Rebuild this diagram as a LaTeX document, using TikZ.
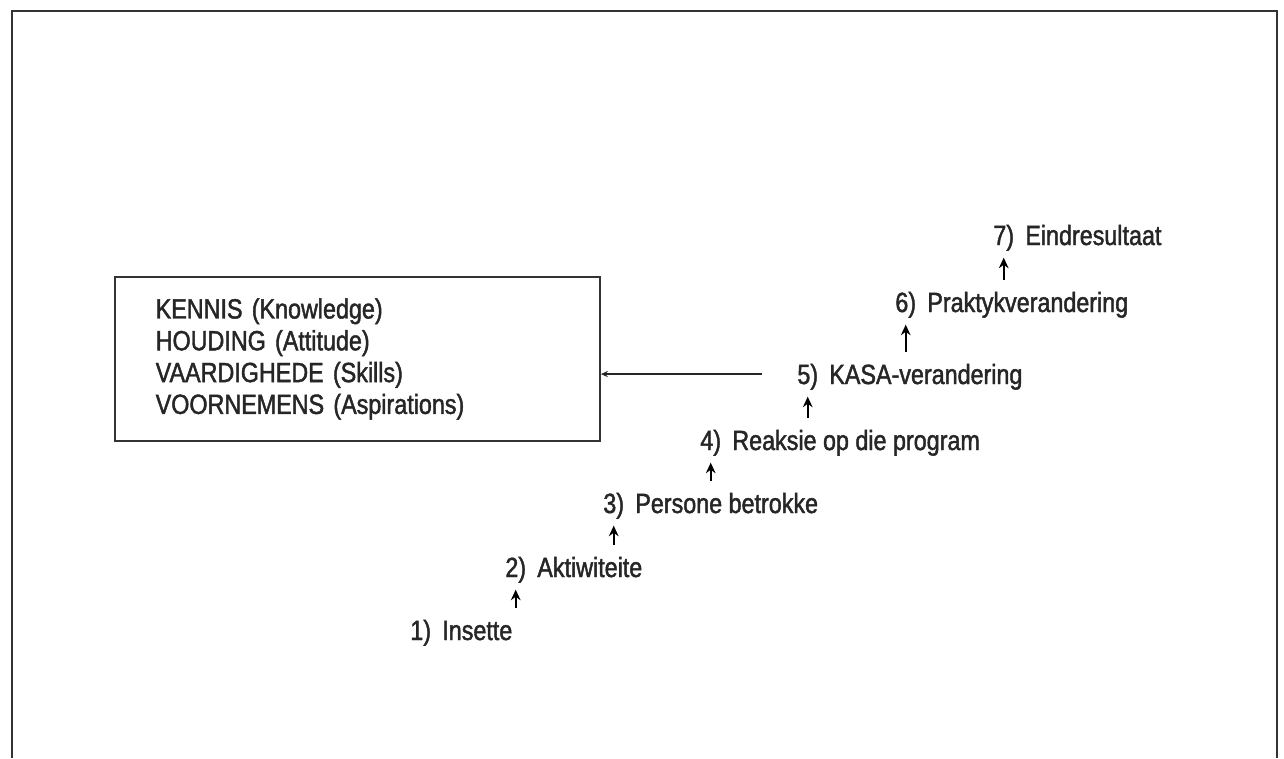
\documentclass[tikz,border=0pt]{standalone}
\usepackage{fontspec}
\setmainfont[FakeStretch=0.84,FakeBold=1.6]{Liberation Sans}
\usepackage{tikz}
\usetikzlibrary{positioning,arrows.meta}

\begin{document}
\begin{tikzpicture}[x=0.02cm,y=-0.02cm,
        every node/.style={inner sep=0pt,text=black!85,font=\fontsize{15.8}{18.1}\selectfont},
        nr/.style={anchor=base west,text height=11.3pt,text depth=0pt},
        woord/.style={text height=11.3pt,text depth=0pt},
        kader/.style={draw=black!80,line width=1.1pt,anchor=west,align=left,
            text width=229.6pt,inner xsep=23.2pt,minimum height=93pt},
        opwaarts/.style={-{Stealth[length=6pt,width=5.5pt]},line width=1.2pt,
            shorten <=7pt,shorten >=7pt},
        terug/.style={-{Stealth[length=4pt,width=3.5pt]},line width=0.9pt,draw=black!85,
            shorten <=20pt}]
        \useasboundingbox (0,0) rectangle (1284,758);
        \draw[line width=1.4pt,black!80] (12,758) -- (12,11) -- (1277,11) -- (1277,758);
        \node[kader] (kasa) at (114,359) {KENNIS (Knowledge)\\ HOUDING (Attitude)\\
            VAARDIGHEDE (Skills)\\ VOORNEMENS (Aspirations)};
        \node[nr] (n1) at (410,640) {1)};
        \node[woord,right=6pt of n1] (w1) {Insette};
        \node[nr] (n2) at (505,577) {2)};
        \node[woord,right=6pt of n2] (w2) {Aktiwiteite};
        \node[nr] (n3) at (603,513) {3)};
        \node[woord,right=6pt of n3] (w3) {Persone betrokke};
        \node[nr] (n4) at (700,450) {4)};
        \node[woord,right=6pt of n4] (w4) {Reaksie op die program};
        \node[nr] (n5) at (797,384) {5)};
        \node[woord,right=6pt of n5] (w5) {KASA-verandering};
        \node[nr] (n6) at (895,312) {6)};
        \node[woord,right=6pt of n6] (w6) {Praktykverandering};
        \node[nr] (n7) at (993,245) {7)};
        \node[woord,right=6pt of n7] (w7) {Eindresultaat};
        \draw[opwaarts] (n2 |- n1.north) -- (n2.south);
        \draw[opwaarts] (n3 |- n2.north) -- (n3.south);
        \draw[opwaarts] (n4 |- n3.north) -- (n4.south);
        \draw[opwaarts] (n5 |- n4.north) -- (n5.south);
        \draw[opwaarts] (n6 |- n5.north) -- (n6.south);
        \draw[opwaarts] (n7 |- n6.north) -- (n7.south);
        \draw[terug] (n5.west) -- (kasa.east |- n5.west);
    \end{tikzpicture}
\end{document}
